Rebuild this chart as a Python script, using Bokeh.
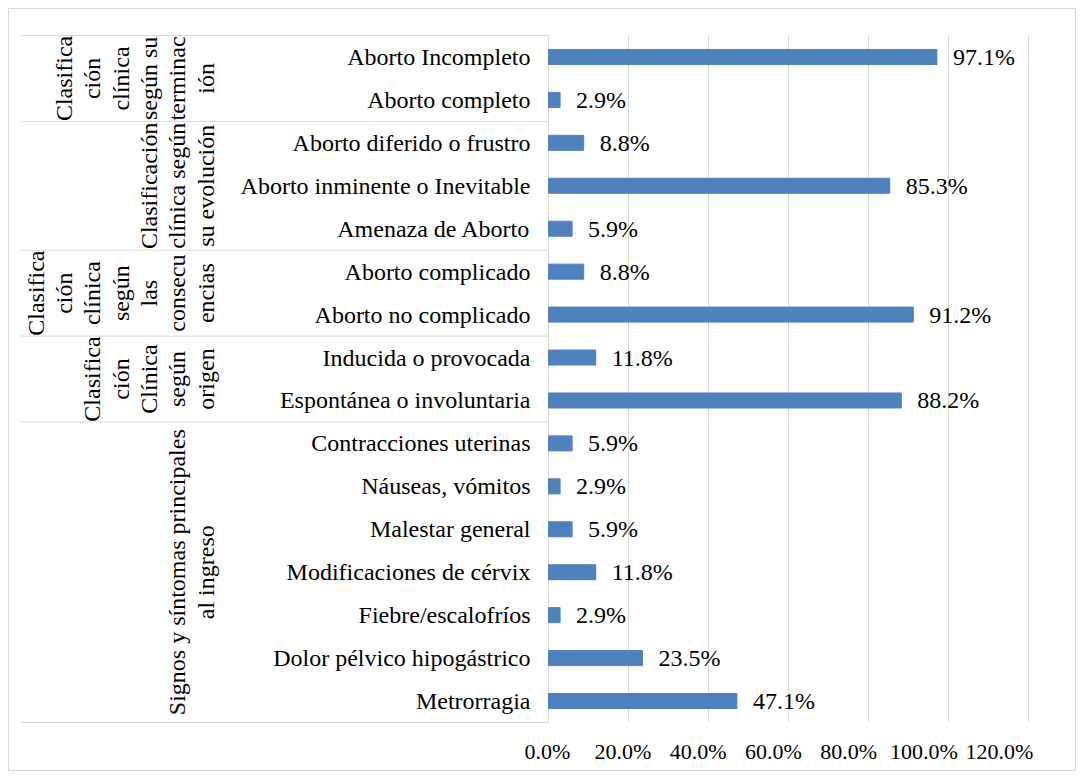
from math import pi
from bokeh.plotting import figure
from bokeh.models import Range1d, ColumnDataSource
from bokeh.core.properties import value
from bokeh.embed import file_html
from bokeh.resources import INLINE

# ---------------- data ----------------
categories = [
    "Aborto Incompleto", "Aborto completo",
    "Aborto diferido o frustro", "Aborto inminente o Inevitable", "Amenaza de Aborto",
    "Aborto complicado", "Aborto no complicado",
    "Inducida o provocada", "Espontánea o involuntaria",
    "Contracciones uterinas", "Náuseas, vómitos", "Malestar general",
    "Modificaciones de cérvix", "Fiebre/escalofríos", "Dolor pélvico hipogástrico",
    "Metrorragia",
]
values = [0.971, 0.029, 0.088, 0.853, 0.059, 0.088, 0.912, 0.118, 0.882,
          0.059, 0.029, 0.059, 0.118, 0.029, 0.235, 0.471]
value_labels = ["97.1%", "2.9%", "8.8%", "85.3%", "5.9%", "8.8%", "91.2%", "11.8%", "88.2%",
                "5.9%", "2.9%", "5.9%", "11.8%", "2.9%", "23.5%", "47.1%"]

group_lines = [
    ["Clasifica", "ción", "clínica", "según su", "terminac", "ión"],
    ["Clasificación", "clínica según", "su evolución"],
    ["Clasifica", "ción", "clínica", "según", "las", "consecu", "encias"],
    ["Clasifica", "ción", "Clínica", "según", "origen"],
    ["Signos y síntomas principales", "al ingreso"],
]
group_first = [0, 2, 5, 7, 9]
group_last = [1, 4, 6, 8, 15]

x_ticks = [0.0, 0.2, 0.4, 0.6, 0.8, 1.0, 1.2]
x_tick_labels = ["0.0%", "20.0%", "40.0%", "60.0%", "80.0%", "100.0%", "120.0%"]

# ---------------- layout / styling ----------------
FONT = "Liberation Serif"
GRID = "#d9d9d9"
BAR = "#4f81bd"

W, H = 1083, 779
BL, BR, BT, BB = 8, 1075, 8, 770        # outer chart border (frame) in px
PL, PR, PT, PB = 548, 1028, 35, 722     # plot area in px
SEP_LEFT = 20                           # left end of the category separators, px

n = len(categories)
rows = list(range(n))
xs = (PR - PL) / 1.2                    # px per unit of value
ys = (PB - PT) / n                      # px per row


def xd(px):
    return (px - PL) / xs


def yd(px):
    return -0.5 + (px - PT) / ys


p = figure(width=W, height=H, output_backend="svg", toolbar_location=None,
           x_range=Range1d(xd(BL), xd(BR)), y_range=Range1d(yd(BB), yd(BT)),
           x_axis_location=None, y_axis_location=None,
           min_border_left=BL, min_border_right=W - BR,
           min_border_top=BT, min_border_bottom=H - BB,
           background_fill_color="white", border_fill_color="white")
p.outline_line_color = GRID
p.outline_line_width = 1
p.xgrid.visible = False
p.ygrid.visible = False

y_top, y_bot = -0.5, n - 0.5

# vertical gridlines (incl. value axis line at 0)
p.segment(x0=x_ticks, x1=x_ticks, y0=[y_top] * len(x_ticks), y1=[y_bot] * len(x_ticks),
          line_color=GRID, line_width=1)

# category group separators
bounds = [group_first[0] - 0.5] + [g + 0.5 for g in group_last]
p.segment(x0=[xd(SEP_LEFT)] * len(bounds), x1=[0] * len(bounds), y0=bounds, y1=bounds,
          line_color=GRID, line_width=1)

# bars
src = ColumnDataSource(dict(y=rows, v=values, lab=value_labels, cat=categories))
p.hbar(y="y", left=0, right="v", height=0.35, source=src,
       fill_color=BAR, line_color=BAR)

# category labels
p.text(x=0, y="y", text="cat", source=src, x_offset=-18,
       text_align="right", text_baseline="middle",
       text_font=value(FONT), text_font_size="24px", text_color="black")

# data labels
p.text(x="v", y="y", text="lab", source=src, x_offset=16,
       text_baseline="middle", text_align="left",
       text_font=value(FONT), text_font_size="24px", text_color="black")

# value-axis tick labels (placed as in the reference, slightly compressed)
lbl_scale = 75.3 / 80.0
p.text(x=[t * lbl_scale + xd(547) for t in x_ticks], y=[yd(751)] * len(x_ticks),
       text=x_tick_labels, text_align="center", text_baseline="middle",
       text_font=value(FONT), text_font_size="22px", text_color="black")

# rotated group labels (lines stacked left to right)
last_col = 205
line_step = 28.3
gx, gy, gt = [], [], []
for lines, a, b in zip(group_lines, group_first, group_last):
    yc = (a + b) / 2
    k = len(lines)
    for i, t in enumerate(lines):
        gx.append(xd(last_col - (k - 1 - i) * line_step))
        gy.append(yc)
        gt.append(t)
p.text(x=gx, y=gy, text=gt, angle=pi / 2, text_align="center", text_baseline="middle",
       text_font=value(FONT), text_font_size="24px", text_color="black")

open("out.html", "w").write(file_html(p, INLINE))
